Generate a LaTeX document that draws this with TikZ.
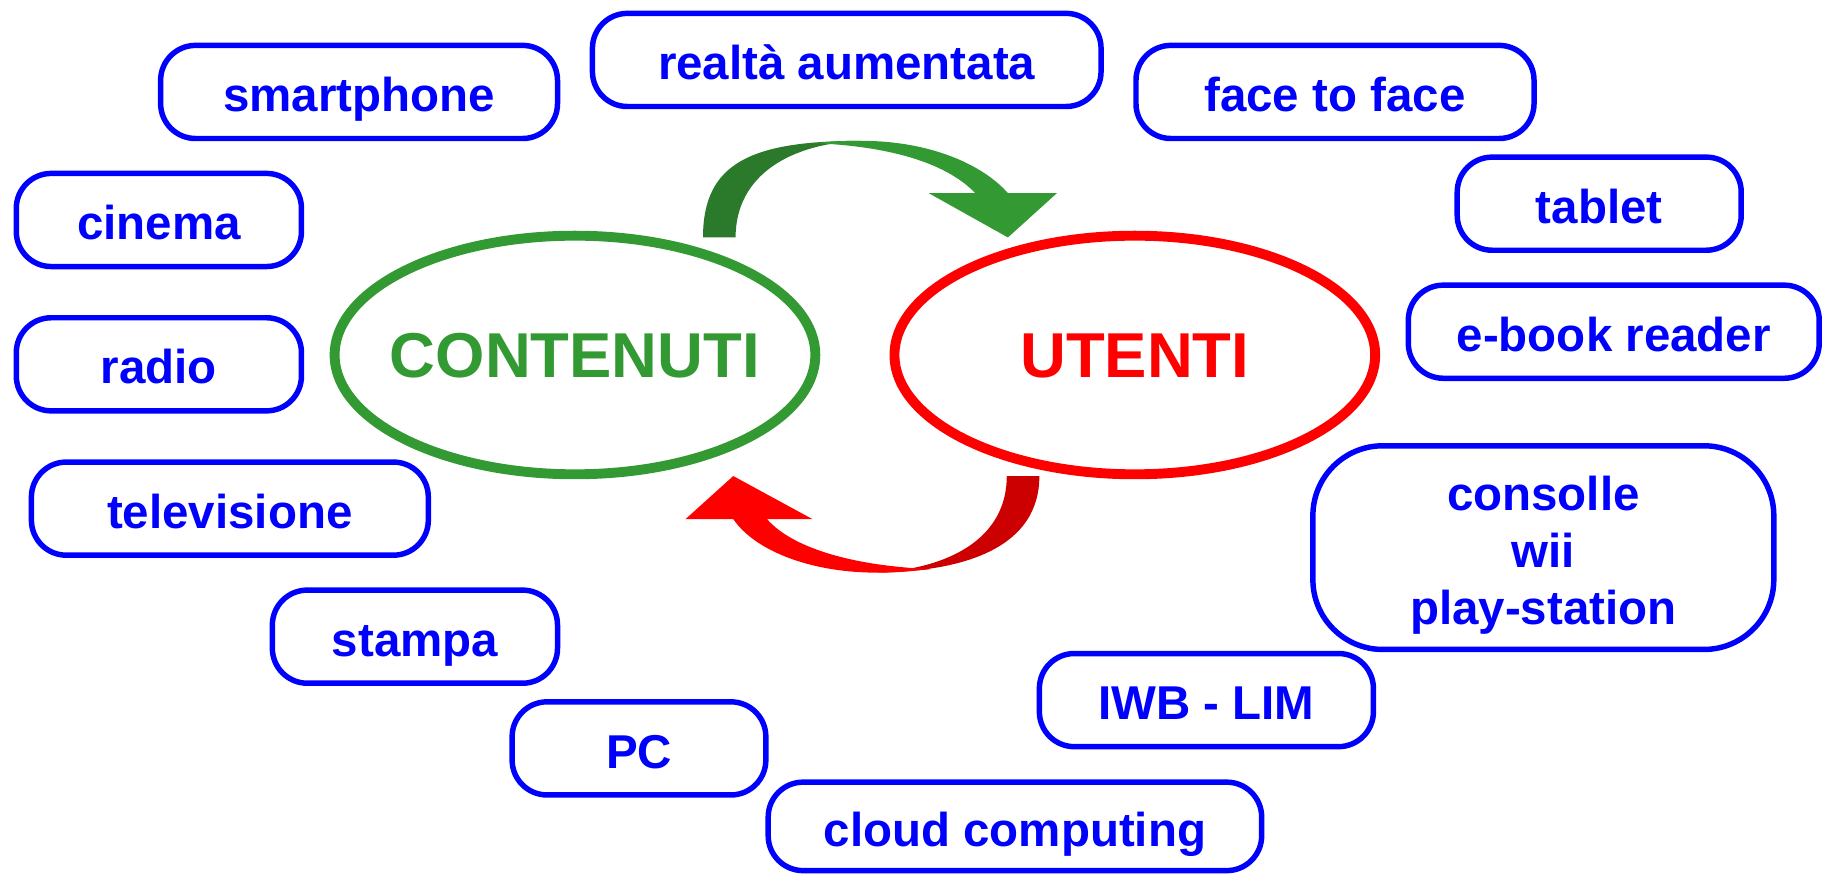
\documentclass[tikz,border=0pt]{standalone}
\usepackage{fontspec}
\setmainfont{Liberation Sans}
\usetikzlibrary{shapes.geometric}
\definecolor{pgreen}{HTML}{339933}
\definecolor{dgreen}{HTML}{2B7A2B}
\definecolor{dred}{HTML}{CC0000}
\newcommand\mytopstrut{\rule{0pt}{42.8pt}}
\newcommand\mybotstrut{\rule[-9pt]{0pt}{9pt}}
\begin{document}
\begin{tikzpicture}[x=1pt,y=-1pt,
  boxbase/.style={draw=blue, line width=4.7pt, rounded corners=30pt, text=blue,
    font=\fontsize{40.8}{49}\selectfont\bfseries, inner sep=0pt, minimum height=80pt, align=center},
  itembox/.style={boxbase, text height=42.8pt, text depth=9pt},
  hub/.style={ellipse, line width=8.5pt, minimum width=413pt, minimum height=205pt, inner sep=0pt},
  hublabel/.style={inner sep=0pt, font=\fontsize{54.5}{60}\selectfont\bfseries, text height=39pt, text depth=0pt}]
\useasboundingbox (0,0) rectangle (1568,752);

% hubs
\node[hub, draw=pgreen] (cont) at (494,305) {};
\node[hublabel, text=pgreen] (contl) at (cont.center) {CONTENUTI};
\node[hub, draw=red] (uten) at (975,305) {};
\node[hublabel, text=red] (utenl) at (uten.center) {UTENTI};

% green curved arrow (contenuti -> utenti)
\fill[dgreen] (604,204) .. controls (604,140) and (645,121) .. (740,121)
  .. controls (680,123) and (632,150) .. (632,204) -- cycle;
\fill[pgreen] (700,123) .. controls (720,121) and (730,121) .. (740,121)
  .. controls (800,121) and (845,142) .. (866,166) -- (908,166) -- (866,204) -- (798,166) -- (838,166)
  .. controls (815,142) and (770,126) .. (700,123) -- cycle;

% red curved arrow (utenti -> contenuti)
\fill[dred] (893,409) .. controls (893,470) and (830,491) .. (753,492)
  .. controls (820,488) and (865,460) .. (865,409) -- cycle;
\fill[red] (800,489) .. controls (780,491) and (770,492) .. (753,492)
  .. controls (700,492) and (650,475) .. (630,446) -- (589,446) -- (630,409) -- (698,446) -- (659,446)
  .. controls (680,470) and (730,486) .. (800,489) -- cycle;

% items
\node[itembox, minimum width=341pt] (smart) at (308.5,79) {smartphone};
\node[itembox, minimum width=437pt] (real) at (727.5,51.5) {realtà aumentata};
\node[itembox, minimum width=342pt] (face) at (1147,79) {face to face};
\node[itembox, minimum width=245pt] (cine) at (136.5,189) {cinema};
\node[itembox, minimum width=244pt] (tabl) at (1374,175) {tablet};
\node[itembox, minimum width=245pt] (radi) at (136.5,313) {radio};
\node[itembox, minimum width=353pt] (ebook) at (1386.5,285) {e-book reader};
\node[itembox, minimum width=341pt] (tele) at (197.5,437) {televisione};
\node[boxbase, minimum width=396pt, minimum height=175pt, rounded corners=60pt] (cons) at (1326,470.5)
  {\mytopstrut consolle\\ wii\\ play-station\mybotstrut};
\node[itembox, minimum width=245pt] (stam) at (356.5,547) {stampa};
\node[itembox, minimum width=287pt] (iwb) at (1036.5,601.5) {IWB - LIM};
\node[itembox, minimum width=218pt] (pc) at (549,643) {PC};
\node[itembox, minimum width=424pt, minimum height=76pt] (cloud) at (872,710) {cloud computing};
\end{tikzpicture}
\end{document}
